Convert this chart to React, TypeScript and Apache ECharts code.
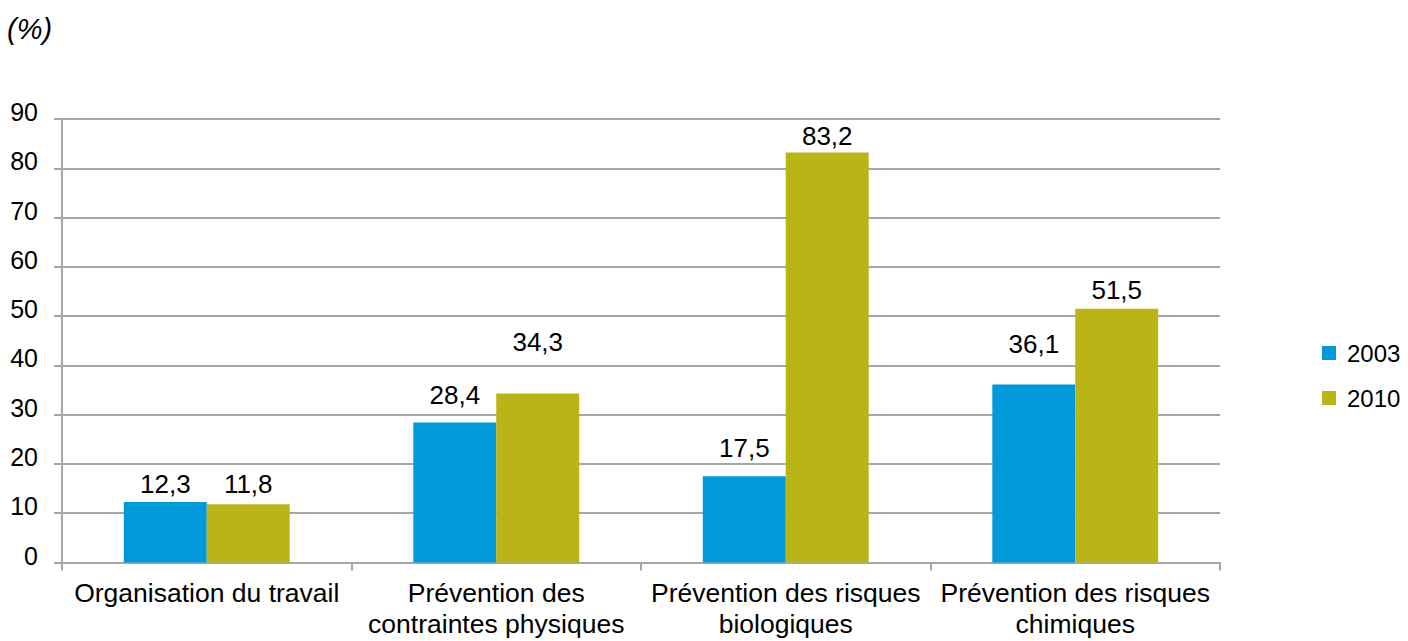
import React, { useEffect, useRef } from "react";
import * as echarts from "echarts";

const categories = [
  "Organisation du travail",
  "Prévention des\ncontraintes physiques",
  "Prévention des risques\nbiologiques",
  "Prévention des risques\nchimiques",
];
const seriesNames = ["2003", "2010"];
const values2003 = [12.3, 28.4, 17.5, 36.1];
const values2010 = [11.8, 34.3, 83.2, 51.5];
const yTicks = { min: 0, max: 90, interval: 10 };
const unitLabel = "(%)";

// label lift (styling), px above default position
const lift2003 = [5, 15, 15, 28];
const lift2010 = [7, 38, 4, 6];

const COLORS = ["#009ADA", "#BAB416"];
const FONT = "'Liberation Sans', Arial, sans-serif";

export default function App() {
  const ref = useRef<HTMLDivElement>(null);
  useEffect(() => {
    if (!ref.current) return;
    const chart = echarts.init(ref.current, null, { renderer: "svg" });
    const fmt = (p: any) => Number(p.value).toFixed(1).replace(".", ",");
    const mk = (vals: number[], lifts: number[]) =>
      vals.map((v, i) => ({ value: v, label: { distance: lifts[i] } }));
    chart.setOption({
      animation: false,
      textStyle: { fontFamily: FONT },
      graphic: [
        {
          type: "text",
          left: 7,
          top: 14,
          style: {
            text: unitLabel,
            fontSize: 29,
            fontStyle: "italic",
            fontFamily: FONT,
            fill: "#000",
          },
        },
      ],
      legend: {
        orient: "vertical",
        left: 1317,
        top: 336,
        itemWidth: 14,
        itemHeight: 14,
        itemGap: 21,
        icon: "rect",
        data: seriesNames,
        textStyle: { fontSize: 24, color: "#000", fontFamily: FONT, padding: [0, 0, 0, 6] },
      },
      grid: {
        left: 62,
        right: 188,
        top: 119,
        bottom: 78.5,
        containLabel: false,
        outerBoundsMode: "none",
      },
      xAxis: {
        type: "category",
        data: categories,
        axisLine: { show: true, lineStyle: { color: "#A6A6A6", width: 2 } },
        axisTick: { show: true, length: 8, lineStyle: { color: "#A6A6A6", width: 2 } },
        axisLabel: {
          interval: 0,
          fontSize: 26.5,
          color: "#000",
          fontFamily: FONT,
          lineHeight: 31,
          margin: 15,
        },
      },
      yAxis: {
        type: "value",
        min: yTicks.min,
        max: yTicks.max,
        interval: yTicks.interval,
        axisLine: { show: true, lineStyle: { color: "#A6A6A6", width: 2 } },
        axisTick: { show: true, length: 8, lineStyle: { color: "#A6A6A6", width: 2 } },
        splitLine: { show: true, lineStyle: { color: "#A6A6A6", width: 2 } },
        axisLabel: {
          fontSize: 25,
          color: "#000",
          fontFamily: FONT,
          margin: 24,
          verticalAlign: "bottom",
          lineHeight: 14,
        },
      },
      series: [
        {
          name: seriesNames[0],
          type: "bar",
          data: mk(values2003, lift2003),
          itemStyle: { color: COLORS[0] },
          barGap: "0%",
          barCategoryGap: "42.7%",
          label: { show: true, position: "top", fontSize: 26, color: "#000", fontFamily: FONT, formatter: fmt },
        },
        {
          name: seriesNames[1],
          type: "bar",
          data: mk(values2010, lift2010),
          itemStyle: { color: COLORS[1] },
          barGap: "0%",
          barCategoryGap: "42.7%",
          label: { show: true, position: "top", fontSize: 26, color: "#000", fontFamily: FONT, formatter: fmt },
        },
      ],
    });
    return () => chart.dispose();
  }, []);
  return (
    <div
      ref={ref}
      style={{ position: "absolute", left: 0, top: 0, width: 1408, height: 641, background: "#fff" }}
    />
  );
}
